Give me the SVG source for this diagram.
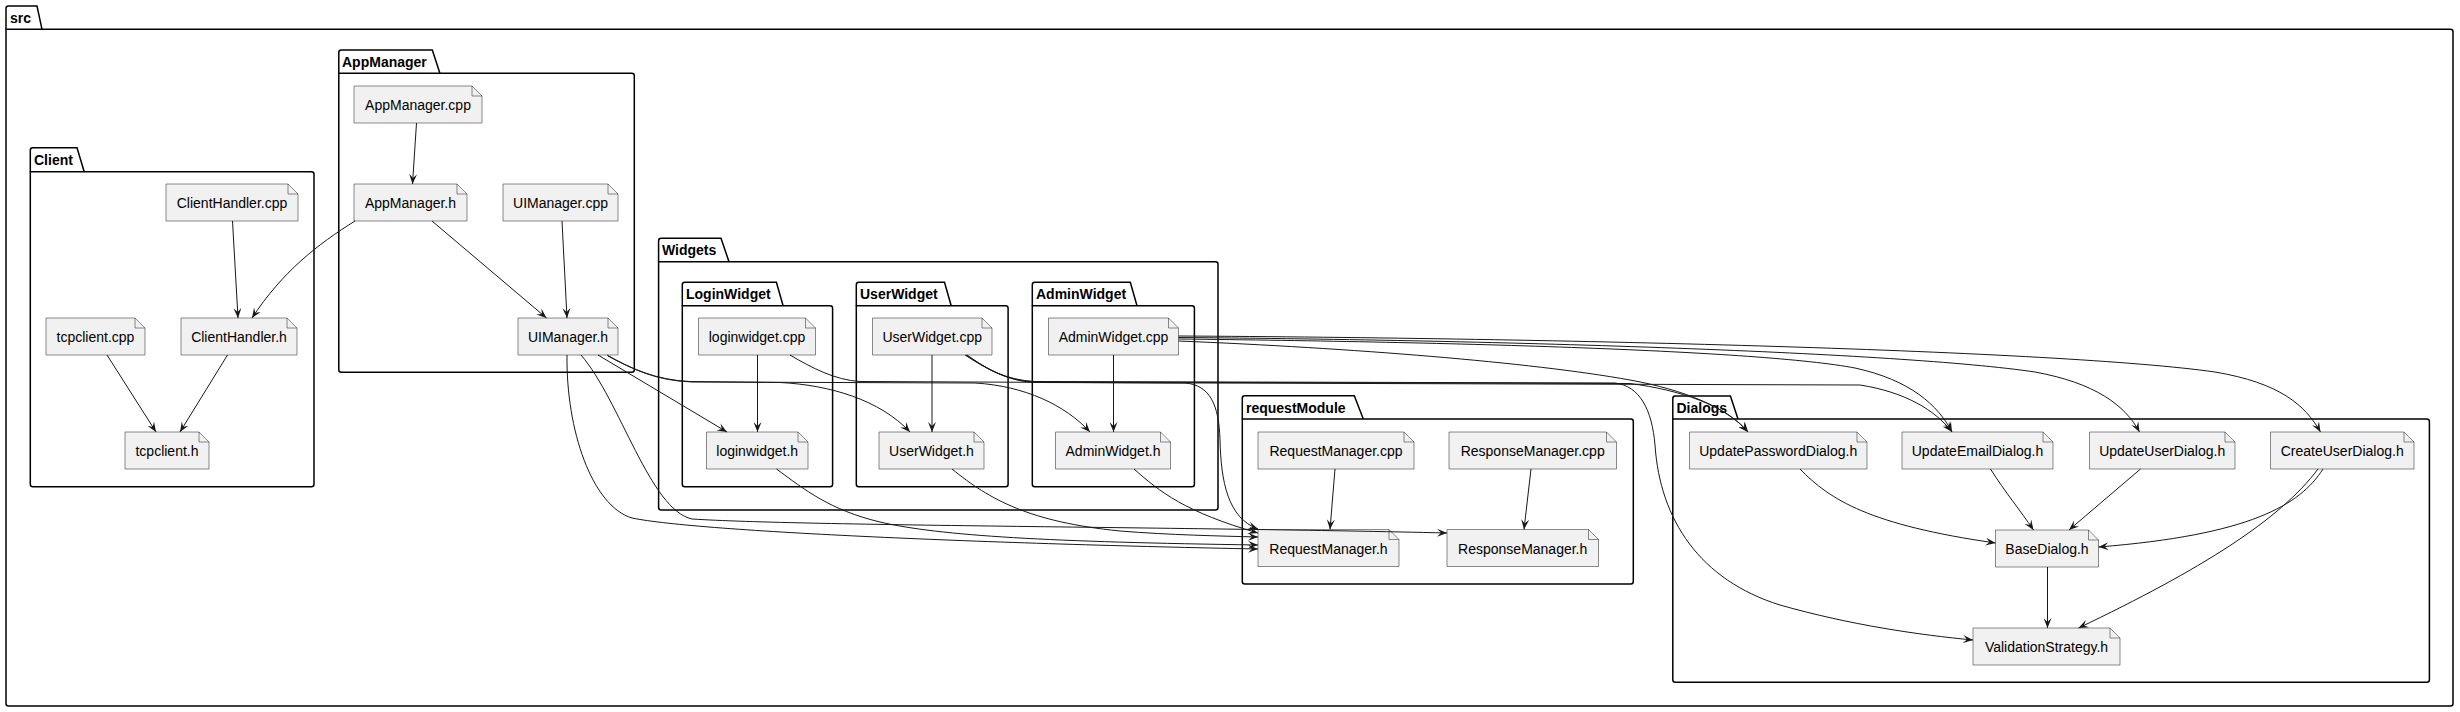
<svg xmlns="http://www.w3.org/2000/svg" width="2460" height="712" viewBox="0 0 2460 712">
<defs>
<marker id="ah" markerWidth="10" markerHeight="8" refX="10" refY="4" orient="auto" markerUnits="userSpaceOnUse" viewBox="0 0 10 8"><path d="M0,0 L10,4 L0,8 L4,4 Z" fill="#181818"/></marker>
<style>
.pk{fill:none;stroke:#000;stroke-width:1.5}
.pl{font-family:"Liberation Sans",Arial,sans-serif;font-size:14px;font-weight:bold;fill:#000}
.nd{fill:#F1F1F1;stroke:#181818;stroke-width:0.5}
.fd{fill:none;stroke:#181818;stroke-width:0.5}
.nt{font-family:"Liberation Sans",Arial,sans-serif;font-size:14px;fill:#000;text-anchor:middle}
.e{fill:none;stroke:#181818;stroke-width:1;marker-end:url(#ah)}
</style>
</defs>
<rect width="2460" height="712" fill="#fff"/>
<g id="packages">
<g id="pkg-src"><path class="pk" d="M6,29.3 L6,8.5 Q6,6 8.5,6 L37,6 L42,29.3"/><path class="pk" d="M6,29.3 L2450.5,29.3 Q2453,29.3 2453,31.8 L2453,703.5 Q2453,706 2450.5,706 L8.5,706 Q6,706 6,703.5 Z"/><text class="pl" x="10" y="23">src</text></g>
<g id="pkg-Client"><path class="pk" d="M30.3,171.7 L30.3,150.2 Q30.3,147.7 32.8,147.7 L77,147.7 L84.2,171.7"/><path class="pk" d="M30.3,171.7 L311.5,171.7 Q314,171.7 314,174.2 L314,484.2 Q314,486.7 311.5,486.7 L32.8,486.7 Q30.3,486.7 30.3,484.2 Z"/><text class="pl" x="34" y="164.7">Client</text></g>
<g id="pkg-AppManager"><path class="pk" d="M338.8,73.3 L338.8,52.5 Q338.8,50 341.3,50 L432.3,50 L439.9,73.3"/><path class="pk" d="M338.8,73.3 L631.8,73.3 Q634.3,73.3 634.3,75.8 L634.3,369.8 Q634.3,372.3 631.8,372.3 L341.3,372.3 Q338.8,372.3 338.8,369.8 Z"/><text class="pl" x="342" y="67">AppManager</text></g>
<g id="pkg-Widgets"><path class="pk" d="M658.6,261.7 L658.6,240.8 Q658.6,238.3 661.1,238.3 L721,238.3 L729,261.7"/><path class="pk" d="M658.6,261.7 L1215.5,261.7 Q1218,261.7 1218,264.2 L1218,507.5 Q1218,510 1215.5,510 L661.1,510 Q658.6,510 658.6,507.5 Z"/><text class="pl" x="662" y="255.3">Widgets</text></g>
<g id="pkg-LoginWidget"><path class="pk" d="M682.3,305.7 L682.3,284.8 Q682.3,282.3 684.8,282.3 L776.4,282.3 L783.1,305.7"/><path class="pk" d="M682.3,305.7 L830.1,305.7 Q832.6,305.7 832.6,308.2 L832.6,484.2 Q832.6,486.7 830.1,486.7 L684.8,486.7 Q682.3,486.7 682.3,484.2 Z"/><text class="pl" x="686" y="299.3">LoginWidget</text></g>
<g id="pkg-UserWidget"><path class="pk" d="M856.3,305.7 L856.3,284.8 Q856.3,282.3 858.8,282.3 L944.5,282.3 L951.2,305.7"/><path class="pk" d="M856.3,305.7 L1005.6,305.7 Q1008.1,305.7 1008.1,308.2 L1008.1,484.2 Q1008.1,486.7 1005.6,486.7 L858.8,486.7 Q856.3,486.7 856.3,484.2 Z"/><text class="pl" x="860" y="299.3">UserWidget</text></g>
<g id="pkg-AdminWidget"><path class="pk" d="M1032.3,305.7 L1032.3,284.8 Q1032.3,282.3 1034.8,282.3 L1130.3,282.3 L1137,305.7"/><path class="pk" d="M1032.3,305.7 L1191.9,305.7 Q1194.4,305.7 1194.4,308.2 L1194.4,484.2 Q1194.4,486.7 1191.9,486.7 L1034.8,486.7 Q1032.3,486.7 1032.3,484.2 Z"/><text class="pl" x="1036" y="299.3">AdminWidget</text></g>
<g id="pkg-requestModule"><path class="pk" d="M1242.3,419 L1242.3,398.2 Q1242.3,395.7 1244.8,395.7 L1354.3,395.7 L1363.3,419"/><path class="pk" d="M1242.3,419 L1630.8,419 Q1633.3,419 1633.3,421.5 L1633.3,581.5 Q1633.3,584 1630.8,584 L1244.8,584 Q1242.3,584 1242.3,581.5 Z"/><text class="pl" x="1246" y="412.7">requestModule</text></g>
<g id="pkg-Dialogs"><path class="pk" d="M1672.8,419 L1672.8,398.5 Q1672.8,396 1675.3,396 L1730.4,396 L1738,419"/><path class="pk" d="M1672.8,419 L2426.9,419 Q2429.4,419 2429.4,421.5 L2429.4,679.8 Q2429.4,682.3 2426.9,682.3 L1675.3,682.3 Q1672.8,682.3 1672.8,679.8 Z"/><text class="pl" x="1676.5" y="413">Dialogs</text></g>
</g>
<g id="nodes">
<g id="n-ClientHandler-cpp"><path class="nd" d="M166,184 L288,184 L298,194 L298,221 L166,221 Z"/><path class="fd" d="M288,184 L288,194 L298,194"/><text class="nt" x="232" y="208">ClientHandler.cpp</text></g>
<g id="n-ClientHandler-h"><path class="nd" d="M181,318 L287,318 L297,328 L297,355 L181,355 Z"/><path class="fd" d="M287,318 L287,328 L297,328"/><text class="nt" x="239" y="342">ClientHandler.h</text></g>
<g id="n-tcpclient-cpp"><path class="nd" d="M46,318 L135,318 L145,328 L145,355 L46,355 Z"/><path class="fd" d="M135,318 L135,328 L145,328"/><text class="nt" x="95.5" y="342">tcpclient.cpp</text></g>
<g id="n-tcpclient-h"><path class="nd" d="M125,432 L199,432 L209,442 L209,469 L125,469 Z"/><path class="fd" d="M199,432 L199,442 L209,442"/><text class="nt" x="167" y="456">tcpclient.h</text></g>
<g id="n-AppManager-cpp"><path class="nd" d="M354,86 L472,86 L482,96 L482,123 L354,123 Z"/><path class="fd" d="M472,86 L472,96 L482,96"/><text class="nt" x="418" y="110">AppManager.cpp</text></g>
<g id="n-AppManager-h"><path class="nd" d="M354,184 L457,184 L467,194 L467,221 L354,221 Z"/><path class="fd" d="M457,184 L457,194 L467,194"/><text class="nt" x="410.5" y="208">AppManager.h</text></g>
<g id="n-UIManager-cpp"><path class="nd" d="M503,184 L608,184 L618,194 L618,221 L503,221 Z"/><path class="fd" d="M608,184 L608,194 L618,194"/><text class="nt" x="560.5" y="208">UIManager.cpp</text></g>
<g id="n-UIManager-h"><path class="nd" d="M518,318 L608,318 L618,328 L618,355 L518,355 Z"/><path class="fd" d="M608,318 L608,328 L618,328"/><text class="nt" x="568" y="342">UIManager.h</text></g>
<g id="n-loginwidget-cpp"><path class="nd" d="M698.5,318 L805.5,318 L815.5,328 L815.5,355 L698.5,355 Z"/><path class="fd" d="M805.5,318 L805.5,328 L815.5,328"/><text class="nt" x="757" y="342">loginwidget.cpp</text></g>
<g id="n-loginwidget-h"><path class="nd" d="M706.5,432 L798,432 L808,442 L808,469 L706.5,469 Z"/><path class="fd" d="M798,432 L798,442 L808,442"/><text class="nt" x="757.2" y="456">loginwidget.h</text></g>
<g id="n-UserWidget-cpp"><path class="nd" d="M872.5,318 L982,318 L992,328 L992,355 L872.5,355 Z"/><path class="fd" d="M982,318 L982,328 L992,328"/><text class="nt" x="932.2" y="342">UserWidget.cpp</text></g>
<g id="n-UserWidget-h"><path class="nd" d="M879,432 L974,432 L984,442 L984,469 L879,469 Z"/><path class="fd" d="M974,432 L974,442 L984,442"/><text class="nt" x="931.5" y="456">UserWidget.h</text></g>
<g id="n-AdminWidget-cpp"><path class="nd" d="M1048.5,318 L1168.5,318 L1178.5,328 L1178.5,355 L1048.5,355 Z"/><path class="fd" d="M1168.5,318 L1168.5,328 L1178.5,328"/><text class="nt" x="1113.5" y="342">AdminWidget.cpp</text></g>
<g id="n-AdminWidget-h"><path class="nd" d="M1055.5,432 L1160.5,432 L1170.5,442 L1170.5,469 L1055.5,469 Z"/><path class="fd" d="M1160.5,432 L1160.5,442 L1170.5,442"/><text class="nt" x="1113" y="456">AdminWidget.h</text></g>
<g id="n-RequestManager-cpp"><path class="nd" d="M1258,432 L1404,432 L1414,442 L1414,469 L1258,469 Z"/><path class="fd" d="M1404,432 L1404,442 L1414,442"/><text class="nt" x="1336" y="456">RequestManager.cpp</text></g>
<g id="n-ResponseManager-cpp"><path class="nd" d="M1449,432 L1606.5,432 L1616.5,442 L1616.5,469 L1449,469 Z"/><path class="fd" d="M1606.5,432 L1606.5,442 L1616.5,442"/><text class="nt" x="1532.7" y="456">ResponseManager.cpp</text></g>
<g id="n-RequestManager-h"><path class="nd" d="M1258,529.5 L1389,529.5 L1399,539.5 L1399,566.5 L1258,566.5 Z"/><path class="fd" d="M1389,529.5 L1389,539.5 L1399,539.5"/><text class="nt" x="1328.5" y="553.5">RequestManager.h</text></g>
<g id="n-ResponseManager-h"><path class="nd" d="M1447,529.5 L1588.5,529.5 L1598.5,539.5 L1598.5,566.5 L1447,566.5 Z"/><path class="fd" d="M1588.5,529.5 L1588.5,539.5 L1598.5,539.5"/><text class="nt" x="1522.7" y="553.5">ResponseManager.h</text></g>
<g id="n-UpdatePasswordDialog-h"><path class="nd" d="M1689.5,432 L1857,432 L1867,442 L1867,469 L1689.5,469 Z"/><path class="fd" d="M1857,432 L1857,442 L1867,442"/><text class="nt" x="1778.2" y="456">UpdatePasswordDialog.h</text></g>
<g id="n-UpdateEmailDialog-h"><path class="nd" d="M1902,432 L2043,432 L2053,442 L2053,469 L1902,469 Z"/><path class="fd" d="M2043,432 L2043,442 L2053,442"/><text class="nt" x="1977.5" y="456">UpdateEmailDialog.h</text></g>
<g id="n-UpdateUserDialog-h"><path class="nd" d="M2089.5,432 L2225,432 L2235,442 L2235,469 L2089.5,469 Z"/><path class="fd" d="M2225,432 L2225,442 L2235,442"/><text class="nt" x="2162.2" y="456">UpdateUserDialog.h</text></g>
<g id="n-CreateUserDialog-h"><path class="nd" d="M2270.5,432 L2404,432 L2414,442 L2414,469 L2270.5,469 Z"/><path class="fd" d="M2404,432 L2404,442 L2414,442"/><text class="nt" x="2342.2" y="456">CreateUserDialog.h</text></g>
<g id="n-BaseDialog-h"><path class="nd" d="M1995.5,530 L2088.5,530 L2098.5,540 L2098.5,567 L1995.5,567 Z"/><path class="fd" d="M2088.5,530 L2088.5,540 L2098.5,540"/><text class="nt" x="2047" y="554">BaseDialog.h</text></g>
<g id="n-ValidationStrategy-h"><path class="nd" d="M1973,628 L2110,628 L2120,638 L2120,665 L1973,665 Z"/><path class="fd" d="M2110,628 L2110,638 L2120,638"/><text class="nt" x="2046.5" y="652">ValidationStrategy.h</text></g>
</g>
<g id="connectors">
<path class="e" d="M416.5,123 L412.5,184"/>
<path class="e" d="M355,221 C318,244 282,272 252,318"/>
<path class="e" d="M432,221 L546.5,318"/>
<path class="e" d="M562,221 L567,318"/>
<path class="e" d="M232.5,221 L238,318"/>
<path class="e" d="M107,355 L156,432"/>
<path class="e" d="M227.5,355 L180,432"/>
<path class="e" d="M757.5,355 L757.5,432"/>
<path class="e" d="M932,355 L932,432"/>
<path class="e" d="M1113.5,355 L1113.5,432"/>
<path class="e" d="M598,355 L727,432"/>
<path class="e" d="M607,355 C630,368 655,380 690,381.5 L780,382.5 C830,385 880,400 910,432"/>
<path class="e" d="M608,356 C632,369 657,381 692,382 L975,383 C1025,386 1065,405 1090,432"/>
<path class="e" d="M790,355 C812,368 835,380 860,381.5 L1185,383 C1210,385 1219,405 1220,440 C1221,482 1228,518 1258,529"/>
<path class="e" d="M965,355 C985,368 1005,380 1035,381.5 L1615,383 C1640,386 1652,410 1655,445 C1660,520 1700,580 1780,605 C1850,625 1920,635 1973,640"/>
<path class="e" d="M966,355 C986,368 1006,381 1036,382 L1630,383.5 C1680,390 1725,405 1748,432"/>
<path class="e" d="M967,355 C987,369 1008,382 1038,382.5 L1860,385 C1905,392 1935,410 1952,432"/>
<path class="e" d="M1178.5,341 C1350,348 1530,362 1630,380 C1685,390 1728,408 1748,432"/>
<path class="e" d="M1178.5,339 C1450,342 1760,350 1855,368 C1910,380 1938,405 1952,432"/>
<path class="e" d="M1178.5,337.5 C1500,340 1900,352 2035,372 C2095,383 2125,405 2139.5,432"/>
<path class="e" d="M1178.5,336 C1550,338 2060,350 2215,372 C2280,383 2305,405 2320.5,432"/>
<path class="e" d="M1134,469 C1160,492 1185,512 1258,533"/>
<path class="e" d="M952,469 C990,500 1030,522 1120,531 C1170,535 1220,536 1258,537"/>
<path class="e" d="M776.5,469 C805,490 830,510 880,522 C940,536 1050,542 1258,545"/>
<path class="e" d="M567,355 C566,430 592,506 632,518 C700,532 1000,544 1258,549"/>
<path class="e" d="M581,355 C620,400 650,510 692,519 C800,526 1200,527 1447,533"/>
<path class="e" d="M1335,469 L1330,529.5"/>
<path class="e" d="M1531,469 L1524,529.5"/>
<path class="e" d="M1800,469 C1830,500 1870,525 1995.5,543"/>
<path class="e" d="M1990.5,469 C2005,492 2020,510 2033.5,530"/>
<path class="e" d="M2140.5,469 L2069,530"/>
<path class="e" d="M2323,469 C2300,505 2250,535 2098.5,547"/>
<path class="e" d="M2318,469 C2280,520 2200,570 2078.5,628"/>
<path class="e" d="M2047.5,567 L2047.5,628"/>
</g>
</svg>
